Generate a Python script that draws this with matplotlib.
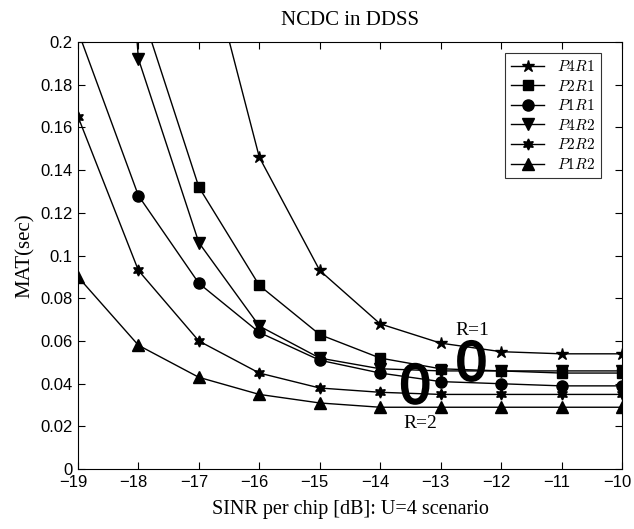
import numpy as np
import matplotlib.pyplot as plt
import matplotlib.patheffects as pe
import matplotlib.transforms as mtransforms

plt.rcParams['mathtext.fontset'] = 'cm'

# SINR values (dB)
sinr = [-19, -18, -17, -16, -15, -14, -13, -12, -11, -10]

# MAT (sec) per curve, points above 0.2 are clipped by the axis
p4r1 = [1.2, 0.6, 0.255, 0.146, 0.093, 0.068, 0.059, 0.055, 0.054, 0.054]
p2r1 = [0.45, 0.219, 0.132, 0.086, 0.063, 0.052, 0.047, 0.046, 0.045, 0.045]
p1r1 = [0.205, 0.128, 0.087, 0.064, 0.051, 0.045, 0.041, 0.040, 0.039, 0.039]
p4r2 = [0.56, 0.192, 0.106, 0.067, 0.052, 0.047, 0.046, 0.046, 0.046, 0.046]
p2r2 = [0.165, 0.093, 0.060, 0.045, 0.038, 0.036, 0.035, 0.035, 0.035, 0.035]
p1r2 = [0.090, 0.058, 0.043, 0.035, 0.031, 0.029, 0.029, 0.029, 0.029, 0.029]

fig = plt.figure(figsize=(6.34, 5.29), dpi=100)
ax = fig.add_axes([0.123, 0.113, 0.858, 0.808])

series = [
    (p4r1, '*', 9, '$P4R1$'),
    (p2r1, 's', 7, '$P2R1$'),
    (p1r1, 'o', 8, '$P1R1$'),
    (p4r2, 'v', 8, '$P4R2$'),
    (p2r2, (6, 1, 0), 8, '$P2R2$'),
    (p1r2, '^', 8, '$P1R2$'),
]
for vals, mk, ms, lab in series:
    # only show markers that are inside the axis range
    shown = [i for i, v in enumerate(vals) if v <= 0.2]
    ax.plot(sinr, vals, 'k-', marker=mk, markersize=ms, lw=1,
            markevery=shown, label=lab)

# annotations
thick = [pe.withStroke(linewidth=1.5, foreground='black')]
ax.text(-12.49, 0.0487, '0', fontsize=38, ha='center', va='center',
        family='DejaVu Sans', path_effects=thick)
ax.text(-13.42, 0.038, '0', fontsize=38, ha='center', va='center',
        family='DejaVu Sans', path_effects=thick)
ax.text(-12.48, 0.065, 'R=1', fontsize=14, ha='center', va='center', family='Liberation Serif')
ax.text(-13.34, 0.0215, 'R=2', fontsize=14, ha='center', va='center', family='Liberation Serif')

ax.set_xlim(-19, -10)
ax.set_ylim(0, 0.2)
ax.set_xticks(np.arange(-19, -9, 1))
ax.set_yticks(np.arange(0, 0.201, 0.02))
ax.set_yticklabels(['0', '0.02', '0.04', '0.06', '0.08', '0.1', '0.12', '0.14', '0.16', '0.18', '0.2'])
ax.tick_params(direction='in', top=True, right=True, labelsize=12, length=5, pad=4)
for lbl in ax.get_xticklabels() + ax.get_yticklabels():
    lbl.set_family('Liberation Sans')

# x tick labels sit a little left of their ticks, like the original
shift = mtransforms.ScaledTranslation(-5 / 100, 0, fig.dpi_scale_trans)
for lbl in ax.get_xticklabels():
    lbl.set_transform(lbl.get_transform() + shift)

ax.set_title('NCDC in DDSS', fontsize=15, family='Liberation Serif', pad=12)
ax.set_xlabel('SINR per chip [dB]: U=4 scenario', fontsize=14.5, family='Liberation Serif', labelpad=7)
ax.set_ylabel('MAT(sec)', fontsize=15, family='Liberation Serif', labelpad=4)

leg = ax.legend(loc='upper right', bbox_to_anchor=(0.961, 0.974), fontsize=11,
                frameon=True, fancybox=False, edgecolor='black',
                handlelength=2.2, borderaxespad=0, labelspacing=0.3)
leg.get_frame().set_linewidth(0.8)

fig.savefig('out.png', dpi=100)
